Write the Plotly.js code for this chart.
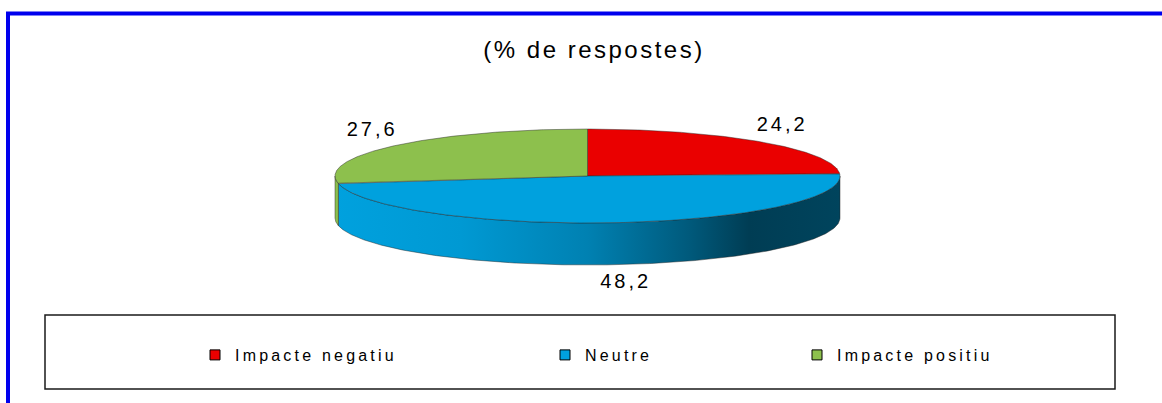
<!DOCTYPE html>
<html><head><meta charset="utf-8">
<script src="https://cdn.plot.ly/plotly-3.0.1.min.js"></script>
<style>
html,body{margin:0;padding:0;background:#fff;}
#chart{width:1162px;height:403px;}
text.legendtext, text.legend2text, text.legend3text{letter-spacing:3.2px;}
.main-svg .textpoint text{letter-spacing:3px;}
text.gtitle{letter-spacing:2.5px;}
</style></head><body><div id="chart"></div>
<script>
// ---- data ----
const categories = ['Impacte negatiu', 'Neutre', 'Impacte positiu'];
const values = [24.2, 48.2, 27.6];
const colors = ['#EA0000', '#00A1DE', '#8DC04D'];
const titleText = '(% de respostes)';

// ---- geometry / style ----
const W = 1162, H = 403;
const cx = 587.5, cy = 176, rx = 252.5, ry = 47, depth = 42;
const FONT = 'Liberation Sans, Arial, sans-serif';

function pt(a, dy) { const r = a * Math.PI / 180; return [cx + rx * Math.sin(r), cy - ry * Math.cos(r) + dy]; }
function arc(a0, a1, dy) {
  const n = Math.max(2, Math.ceil(Math.abs(a1 - a0) / 0.5));
  const xs = [], ys = [];
  for (let i = 0; i <= n; i++) { const p = pt(a0 + (a1 - a0) * i / n, dy); xs.push(p[0]); ys.push(p[1]); }
  return [xs, ys];
}
function shade(hex, f) {
  const n = parseInt(hex.slice(1), 16);
  const r = Math.round(((n >> 16) & 255) * f), g = Math.round(((n >> 8) & 255) * f), b = Math.round((n & 255) * f);
  return `rgb(${r},${g},${b})`;
}
const fmt = v => v.toFixed(1).replace('.', ',');

const total = values.reduce((a, b) => a + b, 0);
let acc = 0;
const slices = values.map(v => { const a0 = acc; acc += v / total * 360; return [a0, acc]; });

const outline = {color: 'rgba(35,35,35,0.75)', width: 0.6};
const traces = [];

// side walls (front half only)
slices.forEach(([a0, a1], i) => {
  const s = Math.max(a0, 90), e = Math.min(a1, 270);
  if (e <= s) return;
  const top = arc(s, e, 0), bot = arc(e, s, depth);
  const c = colors[i];
  traces.push({
    type: 'scatter', mode: 'lines',
    x: top[0].concat(bot[0], [top[0][0]]), y: top[1].concat(bot[1], [top[1][0]]),
    fill: 'toself',
    fillgradient: {type: 'horizontal', start: cx - rx, stop: cx + rx,
      colorscale: [[0, shade(c, 1.0)], [0.25, shade(c, 0.95)], [0.5, shade(c, 0.8)],
                   [0.7, shade(c, 0.56)], [0.82, shade(c, 0.38)], [1, shade(c, 0.42)]]},
    line: outline, hoverinfo: 'skip', showlegend: false
  });
});

// top faces
slices.forEach(([a0, a1], i) => {
  const a = arc(a0, a1, 0);
  traces.push({
    type: 'scatter', mode: 'lines',
    x: [cx].concat(a[0], [cx]), y: [cy].concat(a[1], [cy]),
    fill: 'toself', fillcolor: colors[i],
    line: outline, hoverinfo: 'skip', showlegend: false
  });
});

// data labels
const lx = [], ly = [], lt = [];
slices.forEach(([a0, a1], i) => {
  const m = (a0 + a1) / 2 * Math.PI / 180;
  const front = Math.cos(m) < 0;
  lx.push(cx + (rx + 30) * Math.sin(m) + (front ? 8 : 0));
  ly.push(cy - (ry + 22) * Math.cos(m) + (front ? depth - 4 : 0));
  lt.push(fmt(values[i]));
});
traces.push({type: 'scatter', mode: 'text', x: lx, y: ly, text: lt, textposition: 'middle center',
  textfont: {family: FONT, size: 20, color: '#000'}, hoverinfo: 'skip', showlegend: false});

// legend entries
categories.forEach((name, i) => {
  traces.push({type: 'scatter', mode: 'markers', x: [null], y: [null], name: name,
    marker: {symbol: 'square', size: 10, color: colors[i], line: {color: '#000', width: 1}},
    legend: i === 0 ? 'legend' : 'legend' + (i + 1), showlegend: true});
});

const legendX = [195, 545, 797];
const legBase = i => ({x: legendX[i] / W, y: 1 - 355 / H, xanchor: 'left', yanchor: 'middle',
  bgcolor: 'rgba(0,0,0,0)', borderwidth: 0, font: {family: FONT, size: 16, color: '#000'}, itemwidth: 30});

const layout = {
  width: W, height: H,
  margin: {l: 0, r: 0, t: 0, b: 0},
  paper_bgcolor: '#fff', plot_bgcolor: '#fff',
  showlegend: true,
  title: {text: titleText, x: 594 / W, xanchor: 'center', y: 1 - 50 / H, yanchor: 'middle',
    font: {family: FONT, size: 24, color: '#000'}},
  xaxis: {range: [0, W], visible: false, fixedrange: true},
  yaxis: {range: [H, 0], visible: false, fixedrange: true},
  legend: legBase(0), legend2: legBase(1), legend3: legBase(2),
  shapes: [
    {type: 'rect', xref: 'paper', yref: 'paper', x0: 8 / W, y0: 1 - 13.5 / H, x1: 1.02, y1: -0.05,
      line: {color: '#0000EE', width: 4}, fillcolor: 'rgba(0,0,0,0)', layer: 'above'},
    {type: 'rect', xref: 'paper', yref: 'paper', x0: 45 / W, y0: 1 - 315 / H, x1: 1115 / W, y1: 1 - 389 / H,
      line: {color: '#1a1a1a', width: 1.5}, fillcolor: 'rgba(0,0,0,0)'}
  ]
};

Plotly.newPlot('chart', traces, layout, {displayModeBar: false, staticPlot: true});
</script></body></html>
